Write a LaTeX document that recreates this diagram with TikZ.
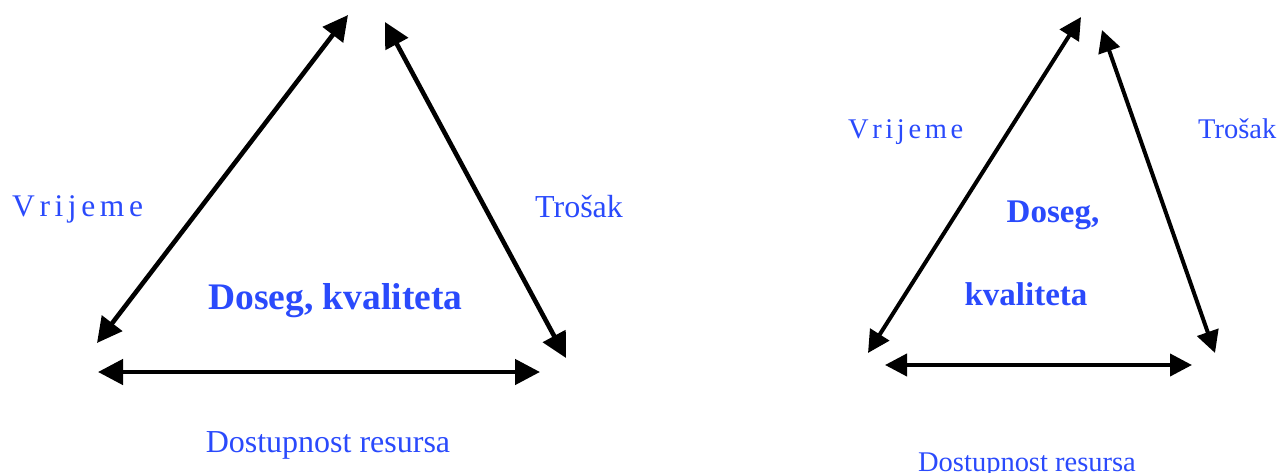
\documentclass[tikz,border=0pt]{standalone}
\usepackage{fontspec}
\setmainfont{Liberation Serif}
\usetikzlibrary{arrows.meta}
\definecolor{lblue}{RGB}{42,74,252}
\tikzset{
  dbl/.style={line width=4.6pt,{Triangle[length=25pt,width=25pt]}-{Triangle[length=25pt,width=25pt]}},
  dbls/.style={line width=4pt,{Triangle[length=22pt,width=22pt]}-{Triangle[length=22pt,width=22pt]}},
  lbl/.style={inner sep=0pt,text=lblue},
}
\newcommand{\myspaced}[1]{V\kern#1 r\kern#1 i\kern#1 j\kern#1 e\kern#1 m\kern#1 e}
\begin{document}
\begin{tikzpicture}[x=1pt,y=-1pt]
\useasboundingbox (0,0) rectangle (1278,472);
% left triangle
\coordinate (LA1) at (348,15);
\coordinate (LA2) at (97,343);
\coordinate (LB1) at (385,22);
\coordinate (LB2) at (566,358);
\coordinate (LC1) at (98,372);
\coordinate (LC2) at (540,372);
\draw[dbl] (LA1) -- (LA2);
\draw[dbl] (LB1) -- (LB2);
\draw[dbl] (LC1) -- (LC2);
\node[lbl,anchor=base west,font=\fontsize{31.5}{36}\selectfont] (lv) at (12,216) {\myspaced{4.6pt}};
\node[lbl,anchor=base west,font=\fontsize{32}{36}\selectfont] (lt) at (535,217) {Trošak};
\node[lbl,anchor=base,font=\fontsize{37.5}{44}\selectfont\bfseries] (ld) at (335.5,309) {Doseg, kvaliteta};
\node[lbl,anchor=base,font=\fontsize{32}{36}\selectfont] (lr) at (328,452) {Dostupnost resursa};
% right triangle
\coordinate (RA1) at (1081,17);
\coordinate (RA2) at (868,353);
\coordinate (RB1) at (1102,30);
\coordinate (RB2) at (1215,353);
\coordinate (RC1) at (885,365);
\coordinate (RC2) at (1192,365);
\draw[dbls] (RA1) -- (RA2);
\draw[dbls] (RB1) -- (RB2);
\draw[dbls] (RC1) -- (RC2);
\node[lbl,anchor=base west,font=\fontsize{28.5}{33}\selectfont] (rv) at (848,138) {\myspaced{3.6pt}};
\node[lbl,anchor=base west,font=\fontsize{28.5}{33}\selectfont] (rt) at (1198,138) {Trošak};
\node[lbl,anchor=base,font=\fontsize{33}{38}\selectfont\bfseries] (rd) at (1053,222) {Doseg,};
\node[lbl,anchor=base,font=\fontsize{33}{38}\selectfont\bfseries] (rk) at (1026,305) {kvaliteta};
\node[lbl,anchor=base,font=\fontsize{28.5}{33}\selectfont] (rr) at (1027,471) {Dostupnost resursa};
\end{tikzpicture}
\end{document}
